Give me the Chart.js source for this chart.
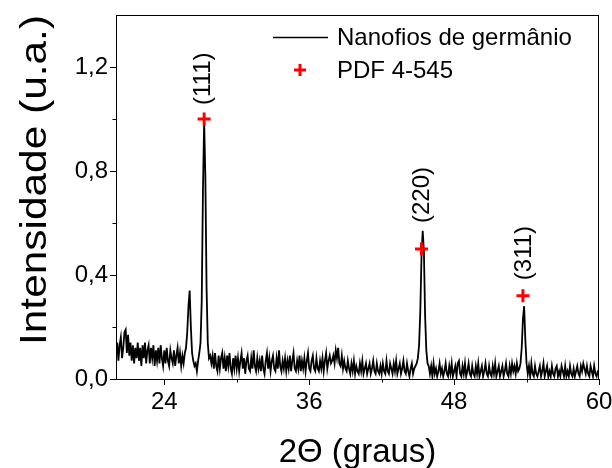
<!DOCTYPE html>
<html><head><meta charset="utf-8">
<script src="https://cdn.jsdelivr.net/npm/chart.js@4.4.1/dist/chart.umd.min.js"></script>
<style>html,body{margin:0;padding:0;background:#fff;} #wrap{width:612px;height:468px;}</style>
</head><body><div id="wrap"><canvas id="c" width="612" height="468"></canvas></div>
<script>
// XRD scan: 2θ from 20° to 60°, sampled every 0.1°
const scanStart = 20;
const scanStep = 0.1;
const intensity = [
  0.09,0.14,0.07,0.13,0.16,0.08,0.12,0.18,0.19,0.10, // 20
  0.17,0.09,0.14,0.07,0.13,0.06,0.12,0.08,0.14,0.07, // 21
  0.12,0.05,0.13,0.08,0.14,0.06,0.11,0.13,0.06,0.12, // 22
  0.08,0.13,0.05,0.11,0.07,0.12,0.06,0.13,0.08,0.05, // 23
  0.11,0.06,0.12,0.07,0.05,0.11,0.08,0.06,0.11,0.05, // 24
  0.09,0.12,0.06,0.10,0.05,0.09,0.06,0.10,0.12,0.18, // 25
  0.28,0.34,0.20,0.10,0.07,0.05,0.06,0.03,0.07,0.10, // 26
  0.14,0.30,0.72,0.99,0.78,0.35,0.14,0.08,0.09,0.06, // 27
  0.09,0.04,0.10,0.05,0.03,0.09,0.04,0.08,0.10,0.04, // 28
  0.08,0.03,0.09,0.05,0.10,0.04,0.02,0.08,0.04,0.09, // 29
  0.04,0.08,0.03,0.07,0.10,0.04,0.08,0.02,0.07,0.09, // 30
  0.04,0.03,0.08,0.04,0.11,0.05,0.03,0.08,0.04,0.07, // 31
  0.03,0.09,0.04,0.02,0.07,0.10,0.04,0.08,0.03,0.07, // 32
  0.09,0.04,0.03,0.08,0.04,0.11,0.05,0.03,0.07,0.04, // 33
  0.08,0.03,0.07,0.04,0.09,0.03,0.07,0.10,0.04,0.03, // 34
  0.07,0.04,0.09,0.03,0.07,0.04,0.08,0.03,0.07,0.10, // 35
  0.04,0.03,0.07,0.09,0.04,0.03,0.08,0.04,0.03,0.07, // 36
  0.04,0.08,0.03,0.07,0.10,0.04,0.07,0.09,0.06,0.07, // 37
  0.09,0.06,0.11,0.08,0.12,0.06,0.05,0.09,0.04,0.07, // 38
  0.04,0.03,0.07,0.04,0.02,0.06,0.03,0.07,0.02,0.05, // 39
  0.03,0.02,0.06,0.03,0.07,0.02,0.04,0.06,0.02,0.04, // 40
  0.06,0.02,0.04,0.07,0.03,0.02,0.06,0.03,0.02,0.05, // 41
  0.02,0.06,0.03,0.02,0.07,0.03,0.02,0.06,0.04,0.02, // 42
  0.06,0.03,0.07,0.02,0.04,0.06,0.02,0.04,0.07,0.03, // 43
  0.02,0.06,0.03,0.01,0.04,0.06,0.02,0.04,0.05,0.06, // 44
  0.08,0.13,0.26,0.47,0.57,0.49,0.24,0.11,0.06,0.05, // 45
  0.02,0.05,0.01,0.06,0.02,0.04,0.01,0.03,0.06,0.02, // 46
  0.04,0.01,0.03,0.06,0.02,0.01,0.05,0.02,0.06,0.01, // 47
  0.03,0.05,0.01,0.06,0.07,0.02,0.01,0.05,0.02,0.06, // 48
  0.01,0.03,0.06,0.02,0.01,0.05,0.02,0.01,0.05,0.02, // 49
  0.06,0.01,0.03,0.05,0.01,0.03,0.06,0.02,0.01,0.05, // 50
  0.02,0.01,0.05,0.02,0.06,0.01,0.03,0.05,0.01,0.03, // 51
  0.05,0.01,0.03,0.06,0.02,0.01,0.05,0.02,0.06,0.03, // 52
  0.05,0.02,0.06,0.03,0.04,0.06,0.12,0.23,0.28,0.15, // 53
  0.06,0.02,0.05,0.01,0.06,0.02,0.01,0.05,0.02,0.01, // 54
  0.03,0.05,0.01,0.03,0.06,0.01,0.03,0.05,0.01,0.03, // 55
  0.01,0.05,0.02,0.01,0.04,0.05,0.01,0.03,0.01,0.05, // 56
  0.03,0.01,0.05,0.01,0.03,0.01,0.05,0.02,0.01,0.04, // 57
  0.01,0.03,0.05,0.02,0.01,0.05,0.03,0.06,0.04,0.02, // 58
  0.05,0.02,0.01,0.05,0.03,0.01,0.05,0.02,0.01,0.03, // 59
  0.03                                                // 60
];

// Reference pattern PDF 4-545 (Ge)
const refPeaks2Theta = [27.3, 45.3, 53.7];
const refPeaksIntensity = [1.0, 0.50, 0.32];

// Miller index annotations
const peakLabels = ['(111)', '(220)', '(311)'];
const peakLabelX = [27.08, 45.2, 53.64];
const peakLabelY = [1.054, 0.60, 0.38];

const xMajorTicks = [24, 36, 48, 60];
const xMinorTicks = [30, 42, 54];
const yMajorTicks = [0, 0.4, 0.8, 1.2];
const yMinorTicks = [0.2, 0.6, 1.0];
const seriesNames = ['Nanofios de germânio', 'PDF 4-545'];
const xTitle = '2\u0398 (graus)';
const yTitle = 'Intensidade (u.a.)';

const FONT = "'Liberation Sans', Arial, Helvetica, sans-serif";
Chart.defaults.font.family = FONT;
Chart.defaults.color = '#000';

const scanData = intensity.map((v, i) => ({ x: +(scanStart + i * scanStep).toFixed(2), y: v }));
const refData = refPeaks2Theta.map((x, i) => ({ x: x, y: refPeaksIntensity[i] }));

const decor = {
  id: 'decor',
  afterDraw(chart) {
    const ctx = chart.ctx;
    const a = chart.chartArea;
    const xs = chart.scales.x, ys = chart.scales.y;
    ctx.save();
    // frame
    ctx.strokeStyle = '#000';
    ctx.lineWidth = 1;
    ctx.strokeRect(Math.round(a.left) + 0.5, Math.round(a.top) + 0.5, Math.round(a.right - a.left) - 1, Math.round(a.bottom - a.top));
    // tick marks
    ctx.beginPath();
    xMajorTicks.forEach(v => { const p = Math.round(xs.getPixelForValue(v)) + 0.5; ctx.moveTo(p, a.bottom); ctx.lineTo(p, a.bottom + 6); });
    xMinorTicks.forEach(v => { const p = Math.round(xs.getPixelForValue(v)) + 0.5; ctx.moveTo(p, a.bottom); ctx.lineTo(p, a.bottom + 3.5); });
    yMajorTicks.forEach(v => { const p = Math.round(ys.getPixelForValue(v)) + 0.5; ctx.moveTo(a.left, p); ctx.lineTo(a.left - 6, p); });
    yMinorTicks.forEach(v => { const p = Math.round(ys.getPixelForValue(v)) + 0.5; ctx.moveTo(a.left, p); ctx.lineTo(a.left - 3.5, p); });
    ctx.stroke();

    // peak labels (rotated)
    ctx.fillStyle = '#000';
    ctx.font = '24px ' + FONT;
    ctx.textAlign = 'left';
    ctx.textBaseline = 'alphabetic';
    peakLabels.forEach((t, i) => {
      const px = xs.getPixelForValue(peakLabelX[i]);
      const py = ys.getPixelForValue(peakLabelY[i]);
      ctx.save();
      ctx.translate(px + 8.6, py);
      ctx.rotate(-Math.PI / 2);
      ctx.fillText(t, 0, 0);
      ctx.restore();
    });

    // axis titles
    ctx.font = '33px ' + FONT;
    ctx.textAlign = 'center';
    ctx.fillText(xTitle, (a.left + a.right) / 2, 462);
    ctx.save();
    ctx.translate(46, 180);
    ctx.rotate(-Math.PI / 2);
    ctx.font = '36px ' + FONT;
    const w = ctx.measureText(yTitle).width;
    ctx.scale(330 / w, 1);
    ctx.fillText(yTitle, 0, 0);
    ctx.restore();

    // legend
    ctx.font = '24px ' + FONT;
    ctx.textAlign = 'left';
    ctx.beginPath();
    ctx.lineWidth = 1.6;
    ctx.moveTo(273, 37.5); ctx.lineTo(328, 37.5);
    ctx.stroke();
    ctx.fillText(seriesNames[0], 337, 45);
    ctx.strokeStyle = '#ff0000';
    ctx.lineWidth = 3;
    ctx.beginPath();
    ctx.moveTo(294, 70); ctx.lineTo(306, 70);
    ctx.moveTo(300, 64); ctx.lineTo(300, 76);
    ctx.stroke();
    ctx.fillText(seriesNames[1], 337, 78);
    ctx.restore();
  }
};

function zeroPad(s) { s.paddingTop = 0; s.paddingBottom = 0; s.paddingLeft = 0; s.paddingRight = 0; }

new Chart(document.getElementById('c'), {
  type: 'scatter',
  data: {
    datasets: [
      { label: seriesNames[1], data: refData, order: 0, pointStyle: 'cross', pointRadius: 6.5, pointHoverRadius: 6.5,
        borderColor: '#ff0000', backgroundColor: '#ff0000', borderWidth: 3, showLine: false },
      { label: seriesNames[0], data: scanData, order: 1, showLine: true, pointRadius: 0, pointHoverRadius: 0,
        borderColor: '#000', borderWidth: 1.8, tension: 0, fill: false }
    ]
  },
  options: {
    responsive: false,
    devicePixelRatio: 1,
    animation: false,
    events: [],
    layout: { padding: { top: 15, right: 13, left: 0, bottom: 0 } },
    plugins: { legend: { display: false }, tooltip: { enabled: false } },
    scales: {
      x: {
        type: 'linear', min: 20, max: 60,
        afterBuildTicks: s => { s.ticks = xMajorTicks.map(v => ({ value: v })); },
        afterFit: s => { s.height = 89; zeroPad(s); },
        grid: { display: false, drawTicks: false },
        border: { display: false },
        ticks: { font: { size: 24 }, padding: 9, maxRotation: 0, autoSkip: false, callback: v => String(v) }
      },
      y: {
        type: 'linear', min: 0, max: 1.4,
        afterBuildTicks: s => { s.ticks = yMajorTicks.map(v => ({ value: v })); },
        afterFit: s => { s.width = 116; zeroPad(s); },
        grid: { display: false, drawTicks: false },
        border: { display: false },
        ticks: { font: { size: 24 }, padding: 8, autoSkip: false, callback: v => v.toFixed(1).replace('.', ',') }
      }
    }
  },
  plugins: [decor]
});
</script></body></html>
